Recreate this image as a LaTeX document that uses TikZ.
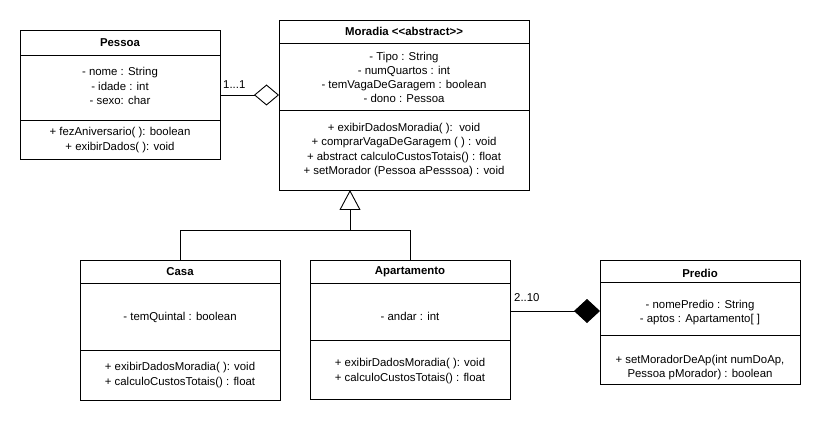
\documentclass[tikz,border=0pt]{standalone}
\usepackage{fontspec}
\setmainfont{Liberation Sans}
\usetikzlibrary{arrows.meta,calc}
\begin{document}
\begin{tikzpicture}[x=1pt,y=-1pt,
  classbox/.style={draw,line width=0.9pt,inner sep=0pt},
  txt/.style={font=\fontsize{11.4}{14.2}\selectfont,align=center,inner sep=0pt,anchor=center},
  ttl/.style={font=\fontsize{11.4}{14.2}\selectfont\bfseries,inner sep=0pt,anchor=center},
  sep/.style={line width=0.9pt},
  conn/.style={line width=0.9pt}]
\fill[white] (0,0) rectangle (822,422);
\useasboundingbox (0,0) rectangle (822,422);
% Pessoa
\draw[classbox] (20,30) rectangle (220,159);
\coordinate (pessoaE) at (220,95);
\draw[sep] (20,55) -- (220,55);
\draw[sep] (20,120) -- (220,120);
\node[ttl] (pessoaT) at (120,43) {Pessoa};
\node[txt] (pessoaA) at (120,86) {- nome : String\\- idade : int\\- sexo: char};
\node[txt] (pessoaM) at (120,140) {+ fezAniversario( ): boolean\\+ exibirDados( ): void};
% Moradia
\draw[classbox] (279,20) rectangle (529,190);
\coordinate (moradiaW) at (279,95);
\coordinate (moradiaS) at (350,190);
\draw[sep] (279,43) -- (529,43);
\draw[sep] (279,110.5) -- (529,110.5);
\node[ttl] (moradiaT) at (404,31) {Moradia <{}<abstract>{}>};
\node[txt] (moradiaA) at (404,77.5) {- Tipo : String\\- numQuartos : int\\- temVagaDeGaragem : boolean\\- dono : Pessoa};
\node[txt] (moradiaM) at (404,150) {+ exibirDadosMoradia( ):\ \ void\\+ comprarVagaDeGaragem ( ) : void\\+ abstract calculoCustosTotais() : float\\+ setMorador (Pessoa aPesssoa) : void};
% Casa
\draw[classbox] (80,260) rectangle (280,400);
\coordinate (casaN) at (180,260);
\draw[sep] (80,283.5) -- (280,283.5);
\draw[sep] (80,350) -- (280,350);
\node[ttl] (casaT) at (180,272) {Casa};
\node[txt] (casaA) at (180,317) {- temQuintal : boolean};
\node[txt] (casaM) at (180,375) {+ exibirDadosMoradia( ): void\\+ calculoCustosTotais() : float};
% Apartamento
\draw[classbox] (310,260) rectangle (510,399);
\coordinate (aptoN) at (410,260);
\coordinate (aptoE) at (510,311);
\draw[sep] (310,283.5) -- (510,283.5);
\draw[sep] (310,340) -- (510,340);
\node[ttl] (aptoT) at (410,272) {Apartamento};
\node[txt] (aptoA) at (410,316) {- andar : int};
\node[txt] (aptoM) at (410,371) {+ exibirDadosMoradia( ): void\\+ calculoCustosTotais() : float};
% Predio
\draw[classbox] (600,260) rectangle (800,384);
\coordinate (predioW) at (600,311);
\draw[sep] (600,282) -- (800,282);
\draw[sep] (600,335) -- (800,335);
\node[ttl] (predioT) at (700,273) {Predio};
\node[txt] (predioA) at (700,312.5) {- nomePredio : String\\- aptos : Apartamento[ ]};
\node[txt] (predioM) at (700,367.5) {+ setMoradorDeAp(int numDoAp,\\Pessoa pMorador) : boolean};
% Aggregation
\draw[conn,-{Diamond[open,length=25pt,width=21pt,line width=0.9pt]}] (pessoaE) -- (moradiaW);
\node[txt,anchor=west] (lbl1) at (223,85) {1...1};
% Composition
\draw[conn,-{Diamond[length=26pt,width=24pt]}] (aptoE) -- (predioW);
\node[txt,anchor=west] (lbl2) at (514,298) {2..10};
% Inheritance
\coordinate (junc) at (350,230);
\draw[conn,-{Triangle[open,length=20pt,width=21pt,line width=0.9pt]}] (junc) -- (moradiaS);
\draw[conn] (casaN) -- (180,230) -- (410,230) -- (aptoN);
\end{tikzpicture}
\end{document}
